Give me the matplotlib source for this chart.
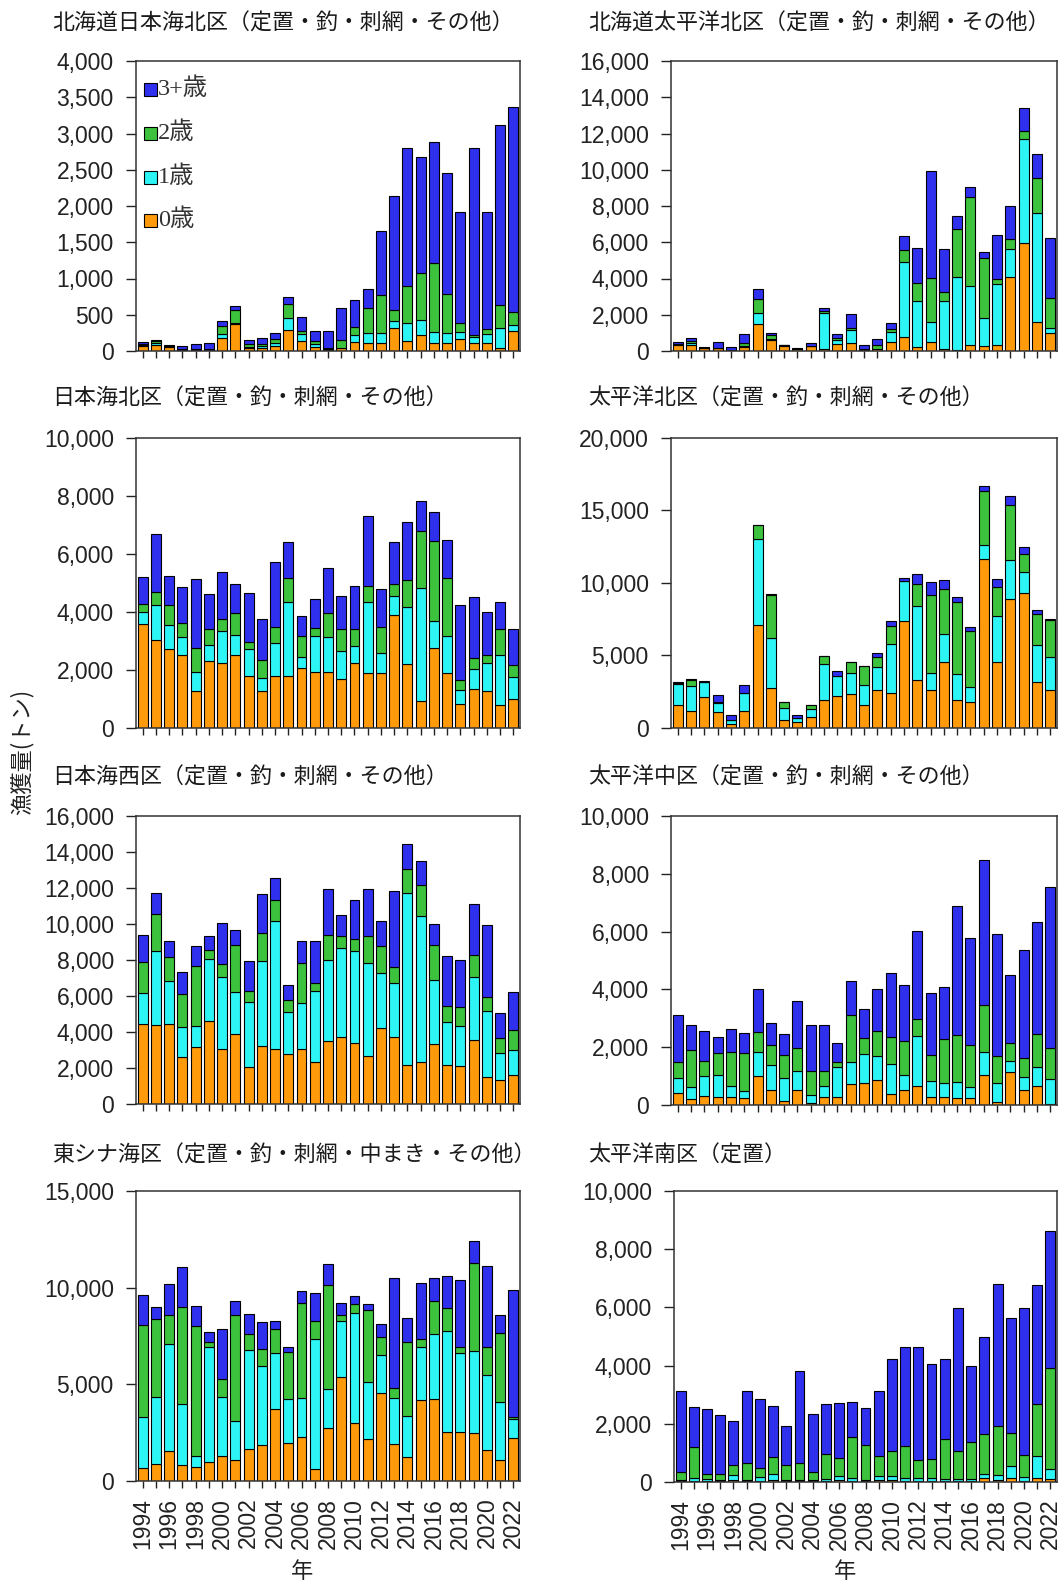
import numpy as np
import matplotlib
matplotlib.use("Agg")
import matplotlib.pyplot as plt
from matplotlib.ticker import FuncFormatter
from matplotlib.patches import Rectangle

plt.rcParams['font.family'] = ['Liberation Sans', 'Noto Sans CJK JP', 'DejaVu Sans']

years = list(range(1994, 2023))
age_labels = ['3+歳', '2歳', '1歳', '0歳']
col0, col1, col2, col3 = '#FF9A0A', '#2EF5F5', '#3CC23C', '#2F2FEE'

# ---- 北海道日本海北区 ----
p1_age0 = [70, 78, 60, 10, 10, 15, 175, 370, 45, 45, 70, 290, 140, 60, 15, 35, 130, 105, 105, 320, 140, 220, 105, 105, 160, 115, 115, 45, 275]
p1_age1 = [10, 35, 5, 5, 5, 5, 55, 10, 15, 20, 35, 160, 100, 35, 10, 10, 90, 145, 140, 95, 245, 207, 160, 147, 105, 73, 120, 275, 83]
p1_age2 = [15, 30, 5, 10, 10, 10, 110, 180, 30, 35, 55, 200, 35, 40, 15, 100, 115, 345, 530, 145, 505, 643, 950, 528, 115, 32, 65, 321, 184]
p1_age3 = [25, 15, 8, 40, 70, 75, 70, 55, 60, 80, 90, 100, 198, 140, 240, 450, 365, 255, 880, 1575, 1915, 1607, 1667, 1676, 1538, 2580, 1620, 2480, 2824]

# ---- 北海道太平洋北区 ----
p2_age0 = [330, 310, 150, 170, 40, 240, 1490, 600, 300, 110, 260, 90, 385, 420, 50, 90, 515, 790, 200, 480, 110, 50, 330, 275, 310, 4096, 5934, 1616, 975]
p2_age1 = [50, 150, 20, 10, 5, 30, 590, 40, 10, 5, 10, 2020, 220, 735, 10, 20, 550, 4130, 2550, 1140, 2660, 4040, 3250, 1560, 3360, 1506, 5786, 6025, 275]
p2_age2 = [30, 110, 20, 10, 5, 150, 770, 240, 10, 5, 10, 75, 90, 130, 40, 220, 130, 680, 1010, 2390, 495, 2665, 4920, 3270, 330, 570, 422, 1910, 1690]
p2_age3 = [100, 130, 50, 320, 190, 500, 550, 90, 30, 30, 140, 200, 220, 735, 230, 330, 370, 755, 1950, 5915, 2390, 680, 550, 365, 2390, 1837, 1286, 1304, 3270]

# ---- 日本海北区 ----
p3_age0 = [3571, 3030, 2707, 2511, 1279, 2304, 2258, 2534, 1797, 1279, 1797, 1797, 2085, 1935, 1935, 1705, 2258, 1912, 1901, 3894, 2200, 922, 2765, 1901, 841, 1359, 1279, 783, 1014]
p3_age1 = [415, 1210, 841, 634, 657, 553, 1094, 668, 910, 461, 1117, 2534, 369, 1233, 1187, 956, 564, 2442, 691, 657, 1981, 3917, 933, 1279, 461, 668, 979, 1728, 749]
p3_age2 = [288, 461, 691, 484, 806, 541, 392, 749, 242, 599, 576, 853, 714, 288, 829, 749, 588, 553, 899, 415, 922, 1958, 2765, 1981, 369, 403, 253, 887, 426]
p3_age3 = [922, 1981, 1002, 1221, 2396, 1233, 1624, 1014, 1716, 1405, 2223, 1221, 703, 979, 1555, 1140, 1498, 2419, 1290, 1440, 2016, 1014, 979, 1313, 2569, 2074, 1498, 933, 1210]

# ---- 太平洋北区 ----
p4_age0 = [1610, 1195, 2115, 1104, 299, 1150, 7081, 2759, 575, 414, 736, 1954, 2184, 2345, 1609, 2644, 2414, 7357, 3288, 2598, 4552, 1954, 1793, 11679, 4552, 8920, 9311, 3173, 2644]
p4_age1 = [1450, 1678, 1030, 621, 230, 1264, 5954, 3448, 805, 276, 575, 2460, 1380, 1448, 1379, 1540, 3380, 2759, 5104, 1195, 1931, 1793, 1035, 966, 3150, 2690, 1425, 2575, 2230]
p4_age2 = [20, 470, 40, 69, 10, 10, 943, 2989, 414, 0, 299, 575, 50, 736, 1310, 713, 1264, 20, 1540, 5357, 3104, 4943, 3839, 3678, 2023, 3793, 1287, 2138, 2598]
p4_age3 = [95, 40, 30, 506, 391, 529, 30, 30, 10, 184, 10, 10, 300, 10, 10, 276, 299, 184, 690, 920, 598, 345, 276, 345, 575, 621, 460, 230, 50]

# ---- 日本海西区 ----
p5_age0 = [4450, 4394, 4450, 2633, 3152, 4635, 3059, 3893, 2039, 3207, 3059, 2781, 3059, 2318, 3486, 3745, 3393, 2651, 4209, 3745, 2169, 2355, 3337, 2169, 2095, 3578, 1483, 1353, 1632]
p5_age1 = [1706, 4097, 2373, 1632, 1205, 3430, 3986, 2318, 3615, 4728, 7101, 2318, 2559, 3949, 4487, 4913, 5080, 5173, 3059, 2966, 9548, 8065, 3578, 2373, 2262, 3467, 3708, 1483, 1372]
p5_age2 = [1724, 2076, 1335, 1854, 3300, 463, 742, 2633, 649, 1557, 1187, 686, 2206, 445, 1390, 649, 705, 1483, 1483, 890, 1353, 1761, 1891, 927, 1057, 1242, 779, 834, 1112]
p5_age3 = [1520, 1150, 871, 1187, 1112, 797, 2262, 797, 1632, 2188, 1205, 853, 1205, 2318, 2596, 1205, 2169, 2651, 1409, 4209, 1353, 1298, 1205, 2781, 2559, 2800, 3949, 1372, 2132]

# ---- 太平洋中区 ----
p6_age0 = [413, 207, 298, 287, 264, 241, 1010, 528, 126, 517, 69, 264, 264, 723, 746, 872, 379, 517, 643, 264, 264, 241, 241, 1033, 115, 1159, 517, 643, 30]
p6_age1 = [505, 425, 712, 758, 379, 230, 827, 861, 792, 666, 287, 379, 1056, 781, 1010, 827, 1033, 528, 1745, 574, 494, 540, 367, 815, 643, 367, 436, 689, 884]
p6_age2 = [585, 1274, 517, 769, 1205, 1320, 700, 677, 815, 804, 804, 540, 184, 1607, 574, 861, 941, 1171, 574, 895, 1538, 1630, 1458, 1607, 941, 608, 689, 1114, 1068]
p6_age3 = [1596, 850, 1033, 551, 792, 689, 1481, 781, 712, 1596, 1596, 1584, 631, 1194, 999, 1469, 2216, 1929, 3042, 2147, 1779, 4477, 3708, 5017, 4225, 2353, 3708, 3880, 5568]

# ---- 東シナ海区 ----
p7_age0 = [663, 886, 1558, 835, 749, 972, 1317, 1093, 1661, 1867, 3726, 1988, 2298, 611, 2762, 5361, 2986, 2160, 4569, 1902, 1265, 4191, 4242, 2556, 2556, 2504, 1609, 1093, 2246]
p7_age1 = [2633, 3442, 5507, 3132, 551, 5972, 3046, 2031, 5111, 4079, 2874, 2255, 1979, 6729, 1996, 2926, 5714, 2977, 1945, 2375, 2117, 2754, 3356, 5197, 4044, 4216, 3872, 2977, 947]
p7_age2 = [4767, 4027, 1515, 5008, 6729, 258, 895, 5456, 809, 878, 1239, 2444, 4905, 929, 5370, 293, 430, 3700, 912, 516, 3786, 379, 1721, 1205, 344, 4578, 1428, 3562, 138]
p7_age3 = [1532, 654, 1601, 2100, 1015, 516, 2582, 723, 1033, 1411, 447, 258, 637, 1480, 1119, 637, 447, 344, 671, 5731, 1239, 2926, 1187, 1652, 3476, 1101, 4199, 947, 6574]

# ---- 太平洋南区 ----
p8_age0 = [20, 40, 35, 25, 80, 30, 50, 80, 30, 30, 30, 30, 55, 45, 20, 55, 55, 40, 40, 40, 30, 30, 30, 140, 80, 137, 50, 137, 103]
p8_age1 = [40, 100, 60, 50, 150, 50, 120, 194, 50, 50, 50, 70, 140, 90, 60, 140, 140, 100, 100, 100, 70, 70, 70, 150, 171, 400, 120, 766, 354]
p8_age2 = [280, 1063, 180, 200, 366, 572, 309, 583, 515, 572, 263, 869, 629, 1406, 1200, 709, 857, 1086, 606, 663, 1372, 972, 1269, 1370, 1680, 1143, 743, 1772, 3475]
p8_age3 = [2790, 1372, 2240, 2012, 1509, 2480, 2366, 1760, 1337, 3178, 2000, 1715, 1886, 1200, 1280, 2229, 3178, 3406, 3886, 3258, 2743, 4915, 2629, 3335, 4869, 3966, 5075, 4092, 4686]

titles = ['北海道日本海北区（定置・釣・刺網・その他）', '北海道太平洋北区（定置・釣・刺網・その他）',
          '日本海北区（定置・釣・刺網・その他）', '太平洋北区（定置・釣・刺網・その他）',
          '日本海西区（定置・釣・刺網・その他）', '太平洋中区（定置・釣・刺網・その他）',
          '東シナ海区（定置・釣・刺網・中まき・その他）', '太平洋南区（定置）']
ymaxs = [4000, 16000, 10000, 20000, 16000, 10000, 15000, 10000]
ysteps = [500, 2000, 2000, 5000, 2000, 2000, 5000, 2000]

panels = [
    (p1_age0, p1_age1, p1_age2, p1_age3), (p2_age0, p2_age1, p2_age2, p2_age3),
    (p3_age0, p3_age1, p3_age2, p3_age3), (p4_age0, p4_age1, p4_age2, p4_age3),
    (p5_age0, p5_age1, p5_age2, p5_age3), (p6_age0, p6_age1, p6_age2, p6_age3),
    (p7_age0, p7_age1, p7_age2, p7_age3), (p8_age0, p8_age1, p8_age2, p8_age3),
]

W, H = 1058, 1584
fig = plt.figure(figsize=(W / 100, H / 100), dpi=100)

# axes rectangles in pixels (left, top, right, bottom)
rects = [(136, 61, 520, 351), (671, 61, 1057, 351),
         (136, 438, 520, 728), (671, 438, 1057, 728),
         (136, 816, 520, 1104), (671, 816, 1057, 1105),
         (136, 1191, 520, 1481), (674, 1191, 1057, 1482)]
title_pos = [(52, 24), (588, 24), (52, 399), (588, 399),
             (52, 778), (588, 778), (52, 1156), (588, 1156)]

cjk = ['Noto Sans CJK JP', 'DejaVu Sans']
fmt = FuncFormatter(lambda v, p: f"{v:,.0f}")
x = np.arange(len(years))
colors = [col0, col1, col2, col3]

axes = []
for i, (r, data) in enumerate(zip(rects, panels)):
    l, t, rr, b = r
    ax = fig.add_axes([l / W, 1 - b / H, (rr - l) / W, (b - t) / H])
    axes.append(ax)
    bottom = np.zeros(len(years))
    for vals, c in zip(data, colors):
        v = np.array(vals, dtype=float)
        ax.bar(x, v, 0.75, bottom=bottom, color=c, edgecolor='black', linewidth=0.8, zorder=2)
        bottom += v
    ax.set_xlim(-0.5, len(years) - 0.5)
    ax.set_ylim(0, ymaxs[i])
    ax.set_yticks(np.arange(0, ymaxs[i] + 1, ysteps[i]))
    ax.yaxis.set_major_formatter(fmt)
    ax.set_xticks(x)
    if i >= 6:
        ax.set_xticklabels([str(y) if k % 2 == 0 else '' for k, y in enumerate(years)],
                           rotation=90)
    else:
        ax.set_xticklabels([])
    ax.tick_params(axis='y', direction='out', length=7, width=1.0, pad=9,
                   labelsize=16.5, colors='#222222')
    ax.tick_params(axis='x', direction='out', length=5, width=1.0, pad=7,
                   labelsize=16.5, colors='#222222')
    for s in ax.spines.values():
        s.set_color('#333333')
        s.set_linewidth(1.1)
    tx, ty = title_pos[i]
    fig.text(tx / W, 1 - ty / H, titles[i], ha='left', va='center',
             fontsize=15.8, family=cjk, color='#1a1a1a')

# legend in the first panel (drawn manually as squares + labels)
ax0 = axes[0]
leg_colors = [col3, col2, col1, col0]
leg_y = [89, 133, 177, 220]
l, t, rr, b = rects[0]
for lab, c, yy in zip(age_labels, leg_colors, leg_y):
    yc = 1 - (yy - t) / (b - t)
    sq_w = 13 / (rr - l)
    sq_h = 13 / (b - t)
    ax0.add_patch(Rectangle(((144 - l) / (rr - l), yc - sq_h / 2), sq_w, sq_h,
                            transform=ax0.transAxes, facecolor=c, edgecolor='black',
                            linewidth=0.8, zorder=3))
    ax0.text((158 - l) / (rr - l), yc, lab, transform=ax0.transAxes, va='center', ha='left',
             fontsize=17.5, family=['Liberation Serif', 'Noto Sans CJK JP'], color='#333333')

fig.text(22 / W, 1 - 752 / H, '漁獲量(トン)', rotation=90, ha='center', va='center',
         fontsize=16, family=cjk, color='#222222')
fig.text(302 / W, 1 - 1572 / H, '年', ha='center', va='center', fontsize=16, family=cjk, color='#222222')
fig.text(845 / W, 1 - 1572 / H, '年', ha='center', va='center', fontsize=16, family=cjk, color='#222222')

fig.savefig('out.png', dpi=100)
